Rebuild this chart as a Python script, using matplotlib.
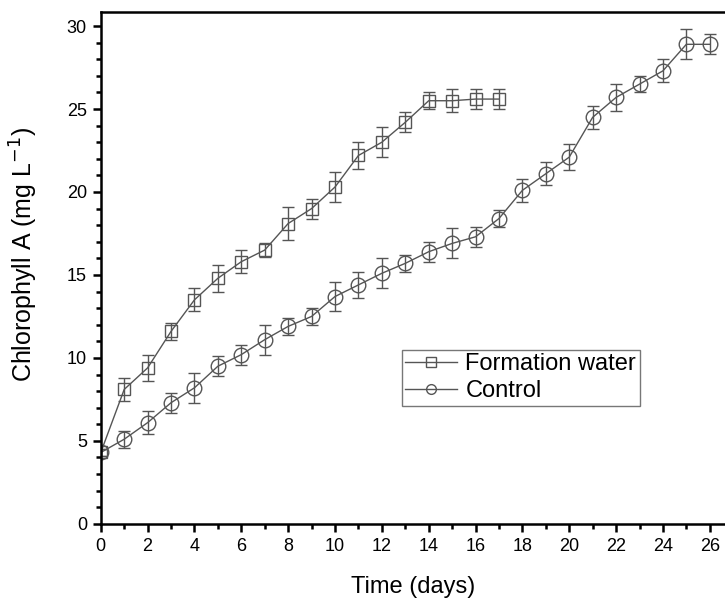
import matplotlib
matplotlib.use("Agg")
import matplotlib.pyplot as plt
from matplotlib.ticker import MultipleLocator
from matplotlib.lines import Line2D

plt.rcParams['font.family'] = ['Liberation Sans', 'DejaVu Sans']

days_fw = list(range(0, 18))
fw = [4.3, 8.1, 9.4, 11.6, 13.5, 14.8, 15.8, 16.5, 18.1, 19.0, 20.3, 22.2, 23.0, 24.2, 25.5, 25.5, 25.6, 25.6]
fw_err = [0.2, 0.7, 0.8, 0.5, 0.7, 0.8, 0.7, 0.4, 1.0, 0.6, 0.9, 0.8, 0.9, 0.6, 0.5, 0.7, 0.6, 0.6]

days_ctrl = list(range(0, 27))
ctrl = [4.3, 5.1, 6.1, 7.3, 8.2, 9.5, 10.2, 11.1, 11.9, 12.5, 13.7, 14.4, 15.1, 15.7, 16.4, 16.9, 17.3,
        18.4, 20.1, 21.1, 22.1, 24.5, 25.7, 26.5, 27.3, 28.9, 28.9]
ctrl_err = [0.2, 0.5, 0.7, 0.6, 0.9, 0.6, 0.6, 0.9, 0.5, 0.5, 0.9, 0.8, 0.9, 0.5, 0.6, 0.9, 0.6,
            0.5, 0.7, 0.7, 0.8, 0.7, 0.8, 0.5, 0.7, 0.9, 0.6]

x_ticks = list(range(0, 27, 2))
y_ticks = [0, 5, 10, 15, 20, 25, 30]

fig = plt.figure(figsize=(7.25, 5.98), dpi=100)
ax = fig.add_axes([0.139, 0.124, 0.861, 0.856])

col = '#555555'
ax.errorbar(days_fw, fw, yerr=fw_err, color=col, lw=1, marker='s', ms=9, mfc='none', mec=col,
            mew=1, capsize=4, elinewidth=1, capthick=1.2)
ax.errorbar(days_ctrl, ctrl, yerr=ctrl_err, color=col, lw=1, marker='o', ms=10.5, mfc='none', mec=col,
            mew=1, capsize=4, elinewidth=1, capthick=1.2)

ax.set_xlim(0, 26.65)
ax.set_ylim(0, 30.85)
ax.set_xticks(x_ticks)
ax.set_yticks(y_ticks)
ax.xaxis.set_minor_locator(MultipleLocator(1))
ax.yaxis.set_minor_locator(MultipleLocator(1))
ax.tick_params(which='major', direction='out', length=6, width=1.8, labelsize=13, top=False, right=False, pad=4)
ax.tick_params(which='minor', direction='out', length=3.5, width=1.8, top=False, right=False)
for s in ['left', 'bottom', 'top']:
    ax.spines[s].set_linewidth(1.8)
ax.spines['right'].set_visible(False)

ax.set_xlabel('Time (days)', fontsize=17, labelpad=15)
ax.set_ylabel('Chlorophyll A (mg L$^{-1}$)', fontsize=18)
ax.yaxis.set_label_coords(-0.098, 0.527)

handles = [Line2D([], [], color=col, lw=1, marker='s', ms=7, mfc='none', mec=col, mew=1),
           Line2D([], [], color=col, lw=1, marker='o', ms=7, mfc='none', mec=col, mew=1)]
labels = ['Formation water', 'Control']
leg = ax.legend(handles, labels, loc='upper left', bbox_to_anchor=(0.482, 0.340), fontsize=17,
                frameon=True, fancybox=False, edgecolor='#555555', handlelength=2.2,
                borderpad=0.15, labelspacing=0.2, handletextpad=0.35, borderaxespad=0)
leg.get_frame().set_linewidth(1)

fig.savefig('out.png', dpi=100)
